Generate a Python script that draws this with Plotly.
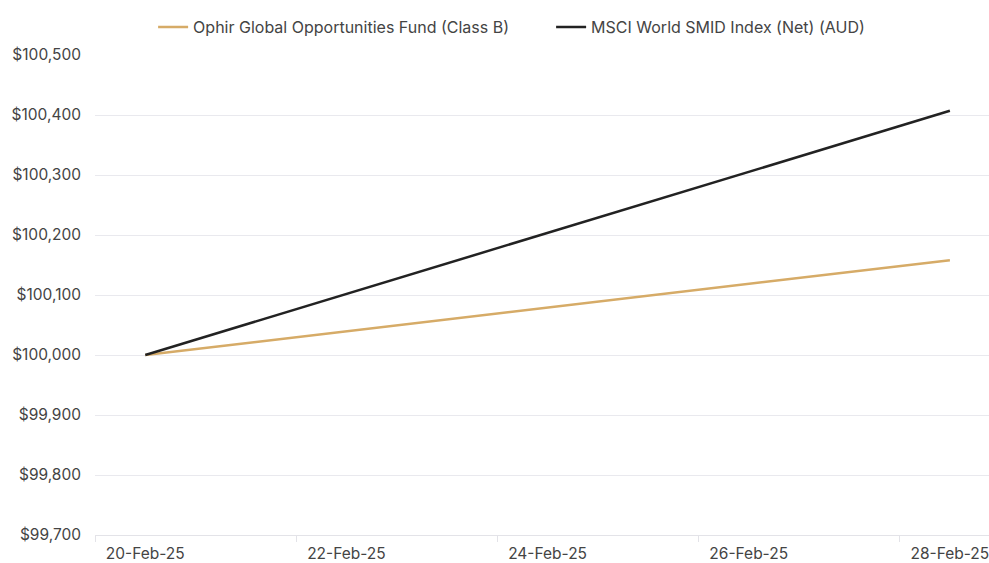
import plotly.graph_objects as go

dates = ["2025-02-20", "2025-02-28"]
fund_values = [100000, 100158]
index_values = [100000, 100407]
fund_name = "Ophir Global Opportunities Fund (Class B)"
index_name = "MSCI World SMID Index (Net) (AUD)"
x_tickvals = ["2025-02-20", "2025-02-22", "2025-02-24", "2025-02-26", "2025-02-28"]
x_ticktext = ["20-Feb-25", "22-Feb-25", "24-Feb-25", "26-Feb-25", "28-Feb-25"]
y_tickvals = [99700, 99800, 99900, 100000, 100100, 100200, 100300, 100400, 100500]
y_ticktext = ["$99,700", "$99,800", "$99,900", "$100,000", "$100,100", "$100,200",
              "$100,300", "$100,400", "$100,500"]

fig = go.Figure()
fig.add_trace(go.Scatter(x=dates, y=fund_values, mode="lines", name=fund_name,
                         line=dict(color="#D6AB67", width=2.5)))
fig.add_trace(go.Scatter(x=dates, y=index_values, mode="lines", name=index_name,
                         line=dict(color="#222222", width=2.5)))

fig.update_layout(
    width=989, height=563,
    margin=dict(l=95, r=0, t=55, b=28, autoexpand=False),
    paper_bgcolor="white", plot_bgcolor="white",
    font=dict(family="Inter, Lato, sans-serif", size=15.5, color="#444444"),
    showlegend=True,
    legend=dict(orientation="h", x=0.065, xanchor="left", y=1.058, yanchor="middle",
                font=dict(size=16, color="#444444"), itemwidth=30,
                entrywidth=353, entrywidthmode="pixels"),
    xaxis=dict(
        type="date", automargin=False,
        range=["2025-02-19 12:00", "2025-02-28 09:20"],
        tickvals=x_tickvals, ticktext=x_ticktext,
        ticks="", showgrid=False, ticklabeloverflow="allow",
        ticklabelstandoff=4,
        showline=True, linecolor="#e3e3e8", linewidth=1,
        tickfont=dict(size=15.5, color="#444444"),
        minor=dict(tick0="2025-02-19 12:00", dtick=2 * 86400000, ticks="outside",
                   ticklen=6, tickcolor="#e3e3e8", showgrid=False),
    ),
    yaxis=dict(
        range=[99700, 100500], automargin=False,
        tickvals=y_tickvals, ticktext=y_ticktext,
        showgrid=True, gridcolor="#e9e9ee", gridwidth=1,
        zeroline=False, showline=False, ticks="",
        ticklabelstandoff=13, ticklabeloverflow="allow",
        tickfont=dict(size=15.5, color="#444444"),
    ),
)

fig.write_html(
    "out.html",
    config={"displayModeBar": False},
    post_script="document.body.style.margin='0';document.body.style.overflow='hidden';",
)
